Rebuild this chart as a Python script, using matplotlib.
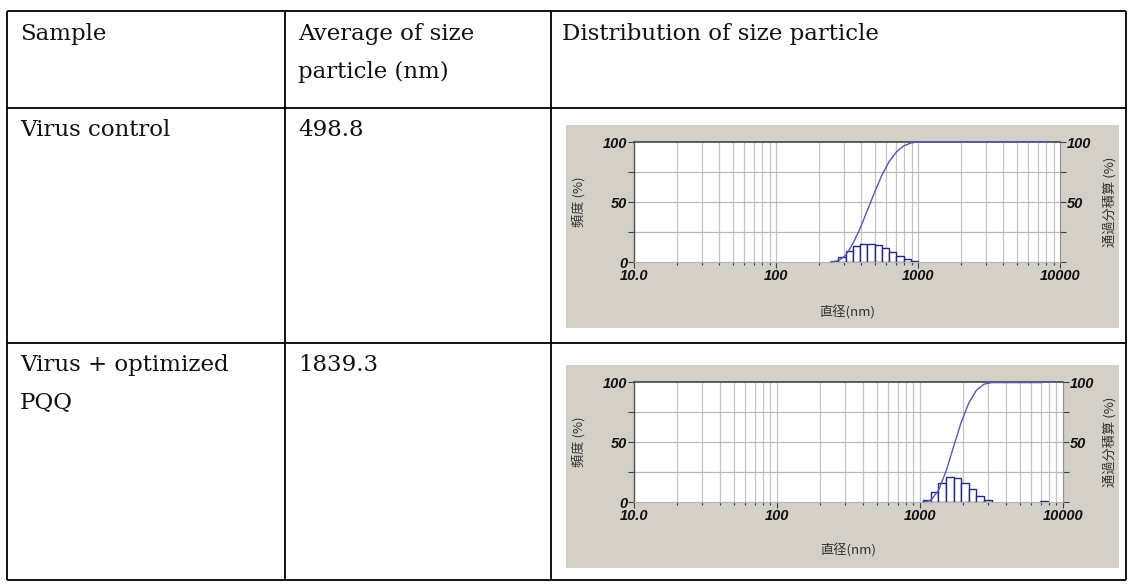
import numpy as np
import matplotlib
matplotlib.use("Agg")
import matplotlib.pyplot as plt
from matplotlib.lines import Line2D
from matplotlib.patches import Rectangle
from matplotlib.ticker import FixedLocator, NullFormatter

# ---------------- table content ----------------
col_headers = [["Sample"], ["Average of size", "particle (nm)"], ["Distribution of size particle"]]
sample_names = [["Virus control"], ["Virus + optimized", "PQQ"]]
mean_sizes = ["498.8", "1839.3"]

# ---------------- size distributions (nm, %) ----------------
# virus control
edges_control = [244, 275, 309, 347, 391, 440, 495, 556, 626, 704, 792, 891, 1000]
freq_control = [1.0, 4.5, 9.5, 13.0, 15.0, 15.2, 14.0, 11.5, 8.0, 5.0, 2.5, 0.8]
cum_x_control = [244, 275, 309, 347, 391, 440, 495, 556, 626, 704, 792, 891, 1000, 8500]
cum_control = [0, 1.0, 5.5, 15.0, 28.0, 43.0, 58.2, 72.2, 83.7, 91.7, 96.7, 99.2, 100, 100]

# virus + optimized PQQ
edges_pqq = [1055, 1192, 1347, 1522, 1720, 1944, 2196, 2482, 2805, 3170]
freq_pqq = [1.5, 8.2, 16.0, 20.7, 20.2, 16.0, 10.6, 5.0, 1.3]
tail_edges_pqq = [6950, 7850]
tail_freq_pqq = [0.5]
cum_x_pqq = [1055, 1192, 1347, 1522, 1720, 1944, 2196, 2482, 2805, 3170, 6950, 7850, 8500]
cum_pqq = [0, 1.5, 9.7, 25.7, 46.4, 66.6, 82.6, 93.2, 98.2, 99.5, 99.5, 100, 100]

x_tick_vals = [10, 100, 1000, 10000]
x_tick_labels = ["10.0", "100", "1000", "10000"]
y_tick_vals = [0, 25, 50, 75, 100]
y_left_labels = ["0", "", "50", "", "100"]
y_right_labels = ["", "", "50", "", "100"]

W, H = 1131, 584
fig = plt.figure(figsize=(W / 100, H / 100), dpi=100)
fig.patch.set_facecolor("white")


def fx(px):
    return px / W


def fy(py):
    return 1 - py / H


# ---------------- table grid ----------------
line_kw = dict(color="black", lw=1.3, solid_capstyle="butt")
x_left, x_c1, x_c2, x_right = 7, 285, 551, 1126
y_top, y_r1, y_r2, y_bot = 11, 108, 343, 580
for xp in (x_left, x_c1, x_c2, x_right):
    fig.add_artist(Line2D([fx(xp), fx(xp)], [fy(y_top), fy(y_bot)], **line_kw))
for yp in (y_top, y_r1, y_r2, y_bot):
    fig.add_artist(Line2D([fx(x_left), fx(x_right)], [fy(yp), fy(yp)], **line_kw))

tfont = dict(family="DejaVu Serif", fontsize=16.5, color="#111111", va="baseline", ha="left")
line_step = 38
col_x = [20, 298, 562]
for cx, lines in zip(col_x, col_headers):
    for i, s in enumerate(lines):
        fig.text(fx(cx), fy(40 + i * line_step), s, **tfont)

row_base = [136, 371]
for rb, names, val in zip(row_base, sample_names, mean_sizes):
    for i, s in enumerate(names):
        fig.text(fx(col_x[0]), fy(rb + i * line_step), s, **tfont)
    fig.text(fx(col_x[1]), fy(rb), val, **tfont)

# ---------------- distribution charts ----------------
panel_color = "#d4d0c8"
bar_edge = "#26267a"
curve_color = "#5858b0"
tick_color = "#404040"
label_font = dict(family="Liberation Sans", weight="bold", style="italic", size=10.5)
cjk = ["Noto Sans CJK JP", "DejaVu Sans"]

charts = [
    dict(panel=(566, 125, 1119, 328), ax=(634, 142, 1060, 262),
         edges=edges_control, freq=freq_control, cx=cum_x_control, cy=cum_control,
         tail_edges=None, tail_freq=None, xlabel_y=312),
    dict(panel=(566, 365, 1119, 568), ax=(634, 382, 1063, 502),
         edges=edges_pqq, freq=freq_pqq, cx=cum_x_pqq, cy=cum_pqq,
         tail_edges=tail_edges_pqq, tail_freq=tail_freq_pqq, xlabel_y=550),
]

minor_vals = [m * d for d in (10, 100, 1000) for m in range(2, 10)]

for c in charts:
    px0, py0, px1, py1 = c["panel"]
    fig.add_artist(Rectangle((fx(px0), fy(py1)), fx(px1 - px0), (py1 - py0) / H,
                             transform=fig.transFigure, facecolor=panel_color,
                             edgecolor="none", zorder=0))
    ax0, ay0, ax1_, ay1 = c["ax"]
    ax = fig.add_axes([fx(ax0), fy(ay1), fx(ax1_ - ax0), (ay1 - ay0) / H])
    ax.set_zorder(2)
    ax.set_facecolor("white")
    ax.set_xscale("log")
    ax.set_xlim(10, 10000)
    ax.set_ylim(0, 100)

    # grid
    for v in minor_vals + [100, 1000]:
        ax.axvline(v, color="#c4c4c4", lw=0.9, zorder=0.5)
    for v in (25, 50, 75):
        ax.axhline(v, color="#b8b8b8", lw=0.9, zorder=0.5)

    # frequency histogram
    e = np.array(c["edges"], dtype=float)
    ax.bar(e[:-1], c["freq"], width=np.diff(e), align="edge", facecolor="white",
           edgecolor=bar_edge, lw=1.0, zorder=2)
    if c["tail_edges"] is not None:
        te = np.array(c["tail_edges"], dtype=float)
        ax.bar(te[:-1], c["tail_freq"], width=np.diff(te), align="edge",
               facecolor="white", edgecolor=bar_edge, lw=1.0, zorder=2)

    # cumulative undersize curve
    ax.plot(c["cx"], c["cy"], color=curve_color, lw=1.0, zorder=3, clip_on=False)

    # axes styling
    ax.xaxis.set_major_locator(FixedLocator(x_tick_vals))
    ax.set_xticklabels(x_tick_labels, fontdict=label_font)
    ax.xaxis.set_minor_locator(FixedLocator(minor_vals))
    ax.xaxis.set_minor_formatter(NullFormatter())
    ax.set_yticks(y_tick_vals)
    ax.set_yticklabels(y_left_labels, fontdict=label_font)
    ax.tick_params(axis="x", which="major", direction="out", length=4, width=0.8,
                   color=tick_color, pad=1, labelcolor="#111111")
    ax.tick_params(axis="x", which="minor", direction="out", length=2, width=0.8,
                   color=tick_color)
    ax.tick_params(axis="y", direction="out", length=4, width=0.8, color=tick_color,
                   pad=1, labelcolor="#111111")
    for side, col, lw in (("top", "#505050", 1.3), ("left", "#505050", 1.0),
                          ("bottom", "#b4b4b4", 0.8), ("right", "#909090", 0.8)):
        ax.spines[side].set_color(col)
        ax.spines[side].set_linewidth(lw)

    axr = ax.twinx()
    axr.set_zorder(1)
    axr.set_ylim(0, 100)
    axr.set_yticks(y_tick_vals)
    axr.set_yticklabels(y_right_labels, fontdict=label_font)
    axr.tick_params(axis="y", direction="out", length=4, width=0.8, color=tick_color,
                    pad=1, labelcolor="#111111")
    for side in ("top", "left", "bottom"):
        axr.spines[side].set_visible(False)
    axr.spines["right"].set_color("#909090")
    axr.spines["right"].set_linewidth(0.8)

    yc = (ay0 + ay1) / 2
    fig.text(fx(579), fy(yc), "頻度 (%)", family=cjk, fontsize=9.5, color="#333333",
             rotation=90, ha="center", va="center")
    fig.text(fx(1110), fy(yc), "通過分積算 (%)", family=cjk, fontsize=9.5,
             color="#333333", rotation=90, ha="center", va="center")
    fig.text(fx((ax0 + ax1_) / 2), fy(c["xlabel_y"]), "直径(nm)", family=cjk,
             fontsize=9.5, color="#333333", ha="center", va="center")

fig.savefig("out.png", dpi=100, facecolor="white")
